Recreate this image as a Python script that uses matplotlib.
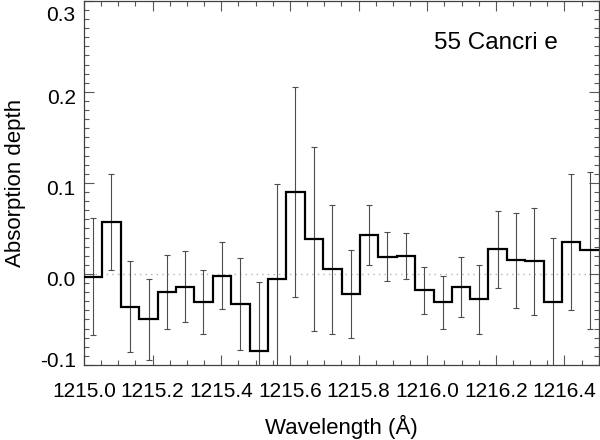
import numpy as np
import matplotlib
matplotlib.use('Agg')
import matplotlib.pyplot as plt
import matplotlib.transforms as mtransforms
from matplotlib.ticker import MultipleLocator, FormatStrFormatter

plt.rcParams['font.family'] = ['Liberation Sans', 'DejaVu Sans']
plt.rcParams['axes.unicode_minus'] = False

# bin centres (Angstrom), absorption depth and 1-sigma errors
wavelength = [1215.027, 1215.080, 1215.134, 1215.188, 1215.241, 1215.295, 1215.348,
              1215.402, 1215.455, 1215.509, 1215.562, 1215.616, 1215.670, 1215.723,
              1215.777, 1215.830, 1215.884, 1215.938, 1215.991, 1216.045, 1216.098,
              1216.152, 1216.205, 1216.259, 1216.312, 1216.366, 1216.420, 1216.473]
depth = [-0.003, 0.057, -0.036, -0.050, -0.020, -0.014, -0.031,
         -0.002, -0.033, -0.085, -0.006, 0.090, 0.038, 0.005,
         -0.022, 0.043, 0.019, 0.020, -0.018, -0.031, -0.014,
         -0.028, 0.027, 0.015, 0.014, -0.031, 0.035, 0.026]
depth_err = [0.064, 0.053, 0.050, 0.045, 0.041, 0.039, 0.035,
             0.037, 0.050, 0.076, 0.105, 0.115, 0.101, 0.071,
             0.048, 0.033, 0.027, 0.025, 0.026, 0.029, 0.033,
             0.038, 0.042, 0.052, 0.059, 0.070, 0.075, 0.086]

x_ticks = [1215.0, 1215.2, 1215.4, 1215.6, 1215.8, 1216.0, 1216.2, 1216.4]
y_ticks = [-0.1, 0.0, 0.1, 0.2, 0.3]

wl = np.array(wavelength)
half = (wl[1] - wl[0]) / 2
edges = np.concatenate([wl - half, [wl[-1] + half]])

fig = plt.figure(figsize=(6, 4.4), dpi=100)
ax = fig.add_axes([0.14, 0.1705, 0.858, 0.8275])

ax.axhline(0.0, color='0.7', lw=1.0, ls=(0, (1, 3)), zorder=1)
ax.errorbar(wl, depth, yerr=depth_err, fmt='none', ecolor='0.3',
            elinewidth=0.8, capsize=2.5, capthick=0.8, zorder=2)
ax.stairs(depth, edges, baseline=None, color='black', lw=1.6, zorder=3)

ax.set_xlim(1215.0, 1216.5)
ax.set_ylim(-0.1, 0.3)
ax.set_xticks(x_ticks)
ax.set_yticks(y_ticks)
ax.xaxis.set_minor_locator(MultipleLocator(0.05))
ax.yaxis.set_minor_locator(MultipleLocator(0.01))
ax.xaxis.set_major_formatter(FormatStrFormatter('%.1f'))
ax.yaxis.set_major_formatter(FormatStrFormatter('%.1f'))

ax.tick_params(which='both', direction='in', top=True, right=True,
               color='0.35', width=0.8, labelsize=15)
ax.tick_params(which='major', length=7)
ax.tick_params(which='minor', length=3.5)
ax.tick_params(axis='x', pad=12)
ax.tick_params(axis='y', pad=6)
for sp in ax.spines.values():
    sp.set_color('0.25')
    sp.set_linewidth(0.9)

ax.set_xlabel('Wavelength (Å)', fontsize=16, labelpad=10)
ax.set_ylabel('Absorption depth', fontsize=16, labelpad=10)

ax.text(0.80, 0.885, '55 Cancri e', transform=ax.transAxes, fontsize=17.5,
        ha='center', va='center')

# IDL-style: y labels sit a little below their ticks, end labels kept inside
down = mtransforms.ScaledTranslation(0, -5 / 100, fig.dpi_scale_trans)
up = mtransforms.ScaledTranslation(0, 5 / 100, fig.dpi_scale_trans)
ylabs = ax.get_yticklabels()
for lab in ylabs[1:]:
    lab.set_transform(lab.get_transform() + down)
ylabs[0].set_transform(ylabs[0].get_transform() + up)
ylabs[-1].set_va('top')

fig.savefig('out.png', dpi=100)
